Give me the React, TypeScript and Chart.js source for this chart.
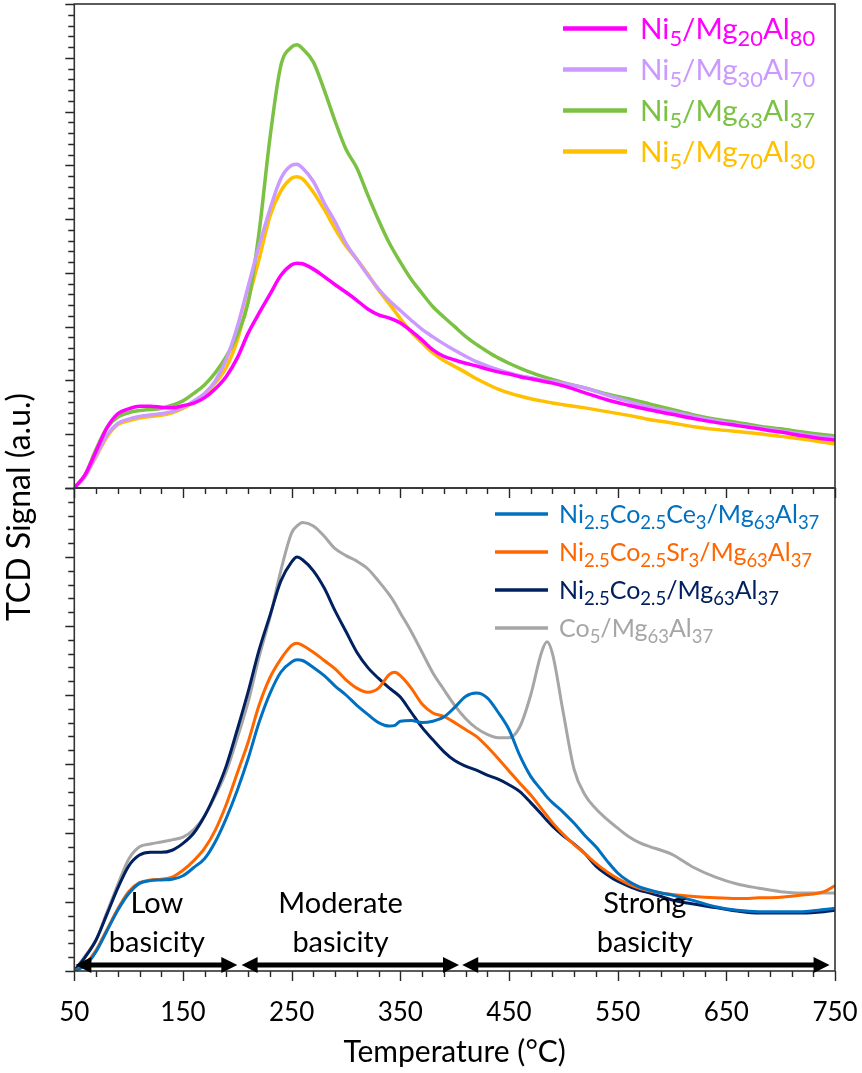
import React, { useEffect, useRef } from "react";
import { Chart, registerables } from "chart.js";

Chart.register(...registerables);

const FONT = "Lato, 'Noto Sans', sans-serif";

// ---------------- data ----------------
const topTemps = [
  50, 60, 70, 80, 90, 100, 110, 120, 130, 140,
  150, 160, 170, 180, 190, 200, 210, 220, 230, 240,
  250, 255, 260, 270, 280, 290, 300, 310, 320, 330,
  340, 350, 360, 370, 380, 390, 400, 410, 420, 430,
  440, 450, 460, 470, 480, 490, 500, 520, 540, 560,
  580, 600, 620, 640, 660, 680, 700, 720, 740, 750,
];

const ni5Mg20Al80 = [
  0, 0.25, 0.68, 1.12, 1.38, 1.47, 1.52, 1.52, 1.5, 1.49,
  1.53, 1.58, 1.68, 1.85, 2.08, 2.42, 2.88, 3.25, 3.6, 3.95,
  4.15, 4.18, 4.17, 4.07, 3.93, 3.78, 3.64, 3.49, 3.33, 3.22,
  3.16, 3.07, 2.92, 2.75, 2.57, 2.45, 2.38, 2.32, 2.27, 2.21,
  2.16, 2.12, 2.07, 2.03, 1.99, 1.95, 1.9, 1.77, 1.64, 1.54,
  1.45, 1.37, 1.29, 1.22, 1.16, 1.1, 1.04, 0.97, 0.91, 0.89,
];

const ni5Mg30Al70 = [
  0, 0.22, 0.6, 0.98, 1.2, 1.28, 1.33, 1.36, 1.38, 1.42,
  1.5, 1.62, 1.76, 2.0, 2.4, 3.0, 3.75, 4.5, 5.18, 5.75,
  6.0, 6.02, 5.95, 5.7, 5.3, 4.95, 4.55, 4.25, 3.96, 3.7,
  3.48, 3.3, 3.12, 2.95, 2.81, 2.68, 2.56, 2.45, 2.35, 2.27,
  2.2, 2.14, 2.09, 2.05, 2.01, 1.98, 1.95, 1.86, 1.73, 1.61,
  1.5, 1.42, 1.33, 1.25, 1.18, 1.12, 1.06, 1.0, 0.95, 0.93,
];

const ni5Mg63Al37 = [
  0, 0.25, 0.72, 1.12, 1.32, 1.4, 1.44, 1.46, 1.48, 1.54,
  1.62, 1.76, 1.92, 2.15, 2.45, 2.85, 3.45, 4.75, 6.5, 7.85,
  8.2, 8.24, 8.17, 7.92, 7.4, 6.82, 6.3, 5.95, 5.45, 4.98,
  4.55, 4.2, 3.88, 3.62, 3.37, 3.18, 3.0, 2.82, 2.67, 2.54,
  2.42, 2.32, 2.23, 2.15, 2.08, 2.02, 1.96, 1.86, 1.75, 1.66,
  1.56, 1.46, 1.36, 1.28, 1.22, 1.15, 1.1, 1.04, 0.99, 0.97,
];

const ni5Mg70Al30 = [
  0, 0.22, 0.58, 0.95, 1.18, 1.25, 1.3, 1.33, 1.35, 1.4,
  1.48, 1.6, 1.74, 1.96, 2.25, 2.75, 3.5, 4.25, 5.05, 5.52,
  5.76, 5.79, 5.75, 5.5, 5.18, 4.82, 4.5, 4.25, 3.98, 3.68,
  3.42, 3.15, 2.9, 2.7, 2.51, 2.37, 2.26, 2.15, 2.03, 1.93,
  1.84, 1.77, 1.71, 1.66, 1.62, 1.58, 1.55, 1.49, 1.42, 1.35,
  1.27, 1.21, 1.14, 1.09, 1.05, 1.01, 0.96, 0.91, 0.85, 0.82,
];

const bottomTemps = [
  50, 60, 70, 80, 90, 100, 110, 120, 130, 140,
  150, 160, 170, 180, 190, 200, 210, 220, 230, 240,
  250, 255, 260, 270, 280, 290, 300, 310, 320, 330,
  340, 345, 350, 360, 370, 380, 390, 400, 410, 420,
  430, 440, 450, 460, 470, 480, 485, 490, 500, 510,
  520, 530, 540, 550, 560, 570, 580, 590, 600, 620,
  640, 660, 680, 700, 720, 740, 750,
];

const niCoCe = [
  0, 0.08, 0.28, 0.58, 0.88, 1.12, 1.27, 1.31, 1.32, 1.33,
  1.38, 1.5, 1.63, 1.88, 2.22, 2.62, 3.08, 3.6, 4.02, 4.33,
  4.48, 4.51, 4.5, 4.4, 4.28, 4.13, 4.0, 3.85, 3.72, 3.6,
  3.55, 3.56, 3.62, 3.63, 3.6, 3.62, 3.68, 3.82, 3.98, 4.03,
  3.96, 3.75, 3.5, 3.12, 2.82, 2.62, 2.52, 2.44, 2.3, 2.14,
  1.96, 1.8, 1.6, 1.42, 1.3, 1.22, 1.17, 1.13, 1.1, 1.02,
  0.93, 0.88, 0.86, 0.86, 0.86, 0.89, 0.91,
];

const niCoSr = [
  0, 0.1, 0.3, 0.6, 0.9, 1.15, 1.28, 1.32, 1.33, 1.36,
  1.46, 1.6, 1.78, 2.05, 2.42, 2.87, 3.32, 3.85, 4.25, 4.52,
  4.72, 4.75, 4.72, 4.62, 4.5, 4.38, 4.22, 4.1, 4.04, 4.1,
  4.3, 4.33, 4.28, 4.1, 3.87, 3.74, 3.69, 3.6, 3.5, 3.4,
  3.25, 3.08, 2.9, 2.72, 2.55, 2.35, 2.25, 2.15, 1.98, 1.83,
  1.7, 1.56, 1.44, 1.34, 1.26, 1.2, 1.16, 1.13, 1.11, 1.08,
  1.06, 1.05, 1.06, 1.07, 1.1, 1.15, 1.24,
];

const niCo = [
  0, 0.2, 0.45, 0.82, 1.2, 1.52, 1.68, 1.72, 1.72, 1.75,
  1.85, 2.0, 2.25, 2.58, 2.98, 3.5, 4.05, 4.65, 5.15, 5.65,
  5.93, 6.0, 5.96, 5.8, 5.55, 5.22, 4.92, 4.62, 4.4, 4.24,
  4.1, 4.04, 3.97, 3.75, 3.53, 3.35, 3.18, 3.05, 2.97, 2.91,
  2.84, 2.78, 2.7, 2.6, 2.44, 2.27, 2.18, 2.1, 1.96, 1.84,
  1.7, 1.52, 1.4, 1.3, 1.23, 1.17, 1.13, 1.08, 1.03, 0.97,
  0.92, 0.87, 0.84, 0.84, 0.84, 0.86, 0.88,
];

const co5 = [
  0, 0.22, 0.45, 0.85, 1.25, 1.62, 1.8, 1.84, 1.87, 1.9,
  1.94, 2.05, 2.25, 2.55, 2.9, 3.38, 3.9, 4.55, 5.12, 5.8,
  6.35, 6.45, 6.5, 6.45, 6.3, 6.12, 6.02, 5.94, 5.83, 5.65,
  5.45, 5.33, 5.19, 4.92, 4.62, 4.32, 4.08, 3.85, 3.66, 3.52,
  3.43, 3.38, 3.38, 3.54, 4.0, 4.62, 4.77, 4.6, 3.74, 2.92,
  2.55, 2.35, 2.2, 2.07, 1.95, 1.86, 1.8, 1.75, 1.69, 1.5,
  1.36, 1.26, 1.2, 1.15, 1.13, 1.13, 1.13,
];

const topLabels = [
  "Ni_{5}/Mg_{20}Al_{80}",
  "Ni_{5}/Mg_{30}Al_{70}",
  "Ni_{5}/Mg_{63}Al_{37}",
  "Ni_{5}/Mg_{70}Al_{30}",
];
const topColors = ["#FF00FF", "#CC99FF", "#7BC143", "#FFC000"];
const topValues = [ni5Mg20Al80, ni5Mg30Al70, ni5Mg63Al37, ni5Mg70Al30];

const bottomLabels = [
  "Ni_{2.5}Co_{2.5}Ce_{3}/Mg_{63}Al_{37}",
  "Ni_{2.5}Co_{2.5}Sr_{3}/Mg_{63}Al_{37}",
  "Ni_{2.5}Co_{2.5}/Mg_{63}Al_{37}",
  "Co_{5}/Mg_{63}Al_{37}",
];
const bottomColors = ["#0070C0", "#FF6600", "#002060", "#A6A6A6"];
const bottomValues = [niCoCe, niCoSr, niCo, co5];

const regionLines = [["Low", "basicity"], ["Moderate", "basicity"], ["Strong", "basicity"]];
const regionFrom = [51, 204, 407];
const regionTo = [200, 404, 745];
const regionCenter = [126, 295, 575];

const xMin = 50;
const xMax = 750;
const xMajorStep = 100;
const xMinorStep = 20;
const topYMax = 9;
const bottomYMax = 7;
const yMinorStep = 0.2;

const xTitle = "Temperature (°C)";
const yTitle = "TCD Signal (a.u.)";

// ---------------- helpers ----------------
type Part = { t: string; sub: boolean };
function parseRich(s: string): Part[] {
  const parts: Part[] = [];
  const re = /_\{([^}]*)\}/g;
  let last = 0;
  let m: RegExpExecArray | null;
  while ((m = re.exec(s))) {
    if (m.index > last) parts.push({ t: s.slice(last, m.index), sub: false });
    parts.push({ t: m[1], sub: true });
    last = re.lastIndex;
  }
  if (last < s.length) parts.push({ t: s.slice(last), sub: false });
  return parts;
}

function drawRich(ctx: CanvasRenderingContext2D, s: string, x: number, baseline: number, size: number, color: string) {
  ctx.fillStyle = color;
  ctx.textAlign = "left";
  ctx.textBaseline = "alphabetic";
  let cx = x;
  for (const p of parseRich(s)) {
    const fs = p.sub ? size * 0.74 : size;
    ctx.font = `${fs}px ${FONT}`;
    ctx.fillText(p.t, cx, p.sub ? baseline + size * 0.25 : baseline);
    cx += ctx.measureText(p.t).width;
  }
}

function drawAxesFrame(chart: any, yMax: number) {
  const { ctx, chartArea, scales } = chart;
  const { left, right, top, bottom } = chartArea;
  const x = scales.x;
  const y = scales.y;
  ctx.save();
  ctx.strokeStyle = "#262626";
  ctx.lineWidth = 1.4;
  ctx.beginPath();
  const nY = Math.round(yMax / yMinorStep);
  for (let i = 0; i <= nY; i++) {
    const v = i * yMinorStep;
    const py = Math.round(y.getPixelForValue(v)) + 0.5;
    const major = i % 5 === 0;
    const len = major ? 9 : 6;
    ctx.moveTo(left - len, py);
    ctx.lineTo(left, py);
  }
  const nX = Math.round((xMax - xMin) / xMinorStep);
  for (let i = 0; i <= nX; i++) {
    const t = xMin + i * xMinorStep;
    const px = Math.round(x.getPixelForValue(t)) + 0.5;
    const major = (t - xMin) % xMajorStep === 0;
    const len = major ? 10 : 6;
    ctx.moveTo(px, bottom);
    ctx.lineTo(px, bottom + len);
  }
  ctx.stroke();
  ctx.strokeStyle = "#333";
  ctx.lineWidth = 1.6;
  ctx.strokeRect(left, top, right - left, bottom - top);
  ctx.restore();
}

type LegendCfg = { labels: string[]; colors: string[]; x0: number; x1: number; textX: number; firstY: number; spacing: number; size: number; lineWidth: number };

function drawLegend(ctx: CanvasRenderingContext2D, cfg: LegendCfg) {
  ctx.save();
  cfg.labels.forEach((lab, i) => {
    const yy = cfg.firstY + i * cfg.spacing;
    ctx.strokeStyle = cfg.colors[i];
    ctx.lineWidth = cfg.lineWidth;
    ctx.beginPath();
    ctx.moveTo(cfg.x0, yy);
    ctx.lineTo(cfg.x1, yy);
    ctx.stroke();
    drawRich(ctx, lab, cfg.textX, yy + cfg.size * 0.36, cfg.size, cfg.colors[i]);
  });
  ctx.restore();
}

function drawArrow(ctx: CanvasRenderingContext2D, x0: number, x1: number, y: number) {
  const head = 16;
  const half = 8;
  ctx.beginPath();
  ctx.lineWidth = 5;
  ctx.strokeStyle = "#000";
  ctx.moveTo(x0 + head - 2, y);
  ctx.lineTo(x1 - head + 2, y);
  ctx.stroke();
  ctx.fillStyle = "#000";
  ctx.beginPath();
  ctx.moveTo(x0, y);
  ctx.lineTo(x0 + head, y - half);
  ctx.lineTo(x0 + head, y + half);
  ctx.closePath();
  ctx.fill();
  ctx.beginPath();
  ctx.moveTo(x1, y);
  ctx.lineTo(x1 - head, y - half);
  ctx.lineTo(x1 - head, y + half);
  ctx.closePath();
  ctx.fill();
}

const topPlugin = {
  id: "topPanel",
  afterDraw(chart: any) {
    drawAxesFrame(chart, topYMax);
    drawLegend(chart.ctx, {
      labels: topLabels,
      colors: topColors,
      x0: 563,
      x1: 627,
      textX: 640,
      firstY: 28.5,
      spacing: 41,
      size: 29.5,
      lineWidth: 4.5,
    });
  },
};

const bottomPlugin = {
  id: "bottomPanel",
  afterDraw(chart: any) {
    const { ctx, chartArea, scales } = chart;
    drawAxesFrame(chart, bottomYMax);
    drawLegend(ctx, {
      labels: bottomLabels,
      colors: bottomColors,
      x0: 495,
      x1: 548,
      textX: 559,
      firstY: 514,
      spacing: 38,
      size: 25,
      lineWidth: 3.5,
    });
    // basicity regions
    ctx.save();
    const ay = chartArea.bottom - 6;
    for (let i = 0; i < regionLines.length; i++) {
      drawArrow(ctx, scales.x.getPixelForValue(regionFrom[i]), scales.x.getPixelForValue(regionTo[i]), ay);
      const cx = scales.x.getPixelForValue(regionCenter[i]);
      ctx.fillStyle = "#000";
      ctx.font = `29px ${FONT}`;
      ctx.textAlign = "center";
      ctx.textBaseline = "alphabetic";
      ctx.fillText(regionLines[i][0], cx, chartArea.bottom - 58);
      ctx.fillText(regionLines[i][1], cx, chartArea.bottom - 19);
    }
    ctx.restore();
    // y title spanning both panels
    ctx.save();
    ctx.translate(20, 507);
    ctx.rotate(-Math.PI / 2);
    ctx.fillStyle = "#000";
    ctx.font = `32px ${FONT}`;
    ctx.textAlign = "center";
    ctx.textBaseline = "middle";
    ctx.fillText(yTitle, 0, 0);
    ctx.restore();
  },
};

function makeDatasets(temps: number[], values: number[][], colors: string[], labels: string[], width: number) {
  return values.map((vals, i) => ({
    label: labels[i],
    data: temps.map((t, j) => ({ x: t, y: vals[j] })),
    borderColor: colors[i],
    backgroundColor: colors[i],
    borderWidth: width,
    pointRadius: 0,
    fill: false,
    cubicInterpolationMode: "monotone" as const,
  }));
}

const fitX = (h: number) => (s: any) => {
  s.height = h;
  s.paddingLeft = 0;
  s.paddingRight = 0;
  s.paddingTop = 0;
  s.paddingBottom = 0;
};
const fitY = (s: any) => {
  s.width = 74.3;
  s.paddingTop = 0;
  s.paddingBottom = 0;
  s.paddingLeft = 0;
  s.paddingRight = 0;
};

export default function App() {
  const topRef = useRef<HTMLCanvasElement>(null);
  const botRef = useRef<HTMLCanvasElement>(null);

  useEffect(() => {
    const top = new Chart(topRef.current as HTMLCanvasElement, {
      type: "line",
      data: { datasets: makeDatasets(topTemps, topValues, topColors, topLabels, 3.5) as any },
      options: {
        animation: false,
        responsive: false,
        events: [],
        layout: { padding: { left: 0, top: 4, right: 27, bottom: 585 } },
        plugins: { legend: { display: false }, tooltip: { enabled: false } },
        scales: {
          x: {
            type: "linear",
            min: xMin,
            max: xMax,
            afterFit: fitX(0),
            ticks: { display: false },
            grid: { display: false, drawTicks: false },
            border: { display: false },
          },
          y: {
            min: 0,
            max: topYMax,
            afterFit: fitY,
            ticks: { display: false },
            grid: { display: false, drawTicks: false },
            border: { display: false },
          },
        },
      } as any,
      plugins: [topPlugin],
    });

    const bottom = new Chart(botRef.current as HTMLCanvasElement, {
      type: "line",
      data: { datasets: makeDatasets(bottomTemps, bottomValues, bottomColors, bottomLabels, 3) as any },
      options: {
        animation: false,
        responsive: false,
        events: [],
        layout: { padding: { left: 0, top: 488, right: 27, bottom: 0 } },
        plugins: { legend: { display: false }, tooltip: { enabled: false } },
        scales: {
          x: {
            type: "linear",
            min: xMin,
            max: xMax,
            afterFit: fitX(102),
            ticks: {
              stepSize: xMajorStep,
              autoSkip: false,
              maxRotation: 0,
              padding: 26,
              color: "#000",
              font: { family: FONT, size: 26 },
            },
            grid: { display: false, drawTicks: false },
            border: { display: false },
            title: {
              display: true,
              text: xTitle,
              color: "#000",
              font: { family: FONT, size: 30 },
              padding: { top: 0, bottom: 3 },
            },
          },
          y: {
            min: 0,
            max: bottomYMax,
            afterFit: fitY,
            ticks: { display: false },
            grid: { display: false, drawTicks: false },
            border: { display: false },
          },
        },
      } as any,
      plugins: [bottomPlugin],
    });

    return () => {
      top.destroy();
      bottom.destroy();
    };
  }, []);

  const cs: React.CSSProperties = { position: "absolute", left: 0, top: 0, width: 862, height: 1073 };
  return (
    <div style={{ position: "absolute", left: 0, top: 0, width: 862, height: 1073, background: "#fff" }}>
      <canvas ref={botRef} width={862} height={1073} style={cs} />
      <canvas ref={topRef} width={862} height={1073} style={cs} />
    </div>
  );
}
